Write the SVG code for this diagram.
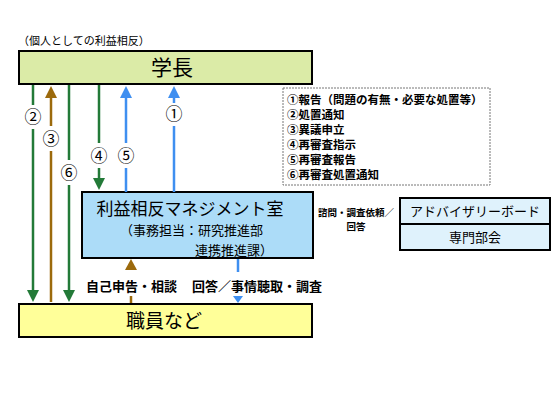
<svg xmlns="http://www.w3.org/2000/svg" width="560" height="420" viewBox="0 0 560 420">
<style>
text{font-family:"Noto Sans CJK JP","Noto Sans CJK SC",sans-serif;fill:#000}
.box{stroke:#000;stroke-width:2}
.g{stroke:#237a38;stroke-width:2.5;fill:none}
.b{stroke:#3f8ff0;stroke-width:2.5;fill:none}
.o{stroke:#9c6a0c;stroke-width:2.5;fill:none}
.num{font-size:17px;text-anchor:middle}
.leg{font-size:11.5px;font-weight:bold}
.sm{font-size:13px;font-weight:bold}
</style>
<rect width="560" height="420" fill="#fff"/>
<text x="18" y="45" font-size="11">（個人としての利益相反）</text>
<g id="gakucho"><rect class="box" x="19" y="51" width="293" height="33" fill="#dbeba7"/><text x="172" y="75" font-size="21" text-anchor="middle">学長</text></g>
<g id="legend"><rect x="283" y="88" width="207" height="97" fill="#fff" stroke="#777" stroke-width="1" stroke-dasharray="2,1"/>
<text class="leg" x="287" y="104">①報告（問題の有無・必要な処置等）</text>
<text class="leg" x="287" y="119">②処置通知</text>
<text class="leg" x="287" y="134">③異議申立</text>
<text class="leg" x="287" y="149">④再審査指示</text>
<text class="leg" x="287" y="164">⑤再審査報告</text>
<text class="leg" x="287" y="179">⑥再審査処置通知</text></g>
<g id="mgmt"><rect class="box" x="82" y="192" width="231" height="66" fill="#acdcf8"/>
<text x="190" y="215" font-size="17" text-anchor="middle">利益相反マネジメント室</text>
<text x="120" y="235" font-size="13">（事務担当：研究推進部</text>
<text x="195" y="255" font-size="13">連携推進課）</text></g>
<g id="advisory"><rect class="box" x="400" y="198" width="150" height="26" fill="#dff2fc"/><text x="475" y="216" font-size="13" text-anchor="middle">アドバイザリーボード</text></g>
<g id="senmon"><rect class="box" x="400" y="224" width="150" height="26" fill="#dff2fc"/><text x="475" y="242" font-size="13" text-anchor="middle">専門部会</text></g>
<g id="shokuin"><rect class="box" x="19" y="304" width="293" height="33" fill="#ffff99"/><text x="164" y="328" font-size="19" text-anchor="middle">職員など</text></g>
<g id="connectors">
<line class="g" x1="33" y1="85" x2="33" y2="105"/><line class="g" x1="33" y1="129" x2="33" y2="292"/><path d="M27,290 L39,290 L33,302 Z" fill="#237a38"/>
<text class="num" x="33" y="123">②</text>
<line class="o" x1="51" y1="96" x2="51" y2="126"/><line class="o" x1="51" y1="151" x2="51" y2="302"/><path d="M45,98 L57,98 L51,86 Z" fill="#9c6a0c"/>
<text class="num" x="51" y="145">③</text>
<line class="g" x1="69" y1="85" x2="69" y2="160"/><line class="g" x1="69" y1="185" x2="69" y2="292"/><path d="M63,290 L75,290 L69,302 Z" fill="#237a38"/>
<text class="num" x="69" y="179">⑥</text>
<line class="g" x1="99" y1="85" x2="99" y2="143"/><line class="g" x1="99" y1="168" x2="99" y2="180"/><path d="M93,178 L105,178 L99,190 Z" fill="#237a38"/>
<text class="num" x="99" y="162">④</text>
<line class="b" x1="126" y1="96" x2="126" y2="143"/><line class="b" x1="126" y1="168" x2="126" y2="192"/><path d="M120,98 L132,98 L126,86 Z" fill="#3f8ff0"/>
<text class="num" x="126" y="162">⑤</text>
<line class="b" x1="174" y1="96" x2="174" y2="103"/><line class="b" x1="174" y1="126" x2="174" y2="192"/><path d="M168,98 L180,98 L174,86 Z" fill="#3f8ff0"/>
<text class="num" x="174" y="120">①</text>
<path d="M125,270 L137,270 L131,259 Z" fill="#9c6a0c"/><line class="o" x1="131" y1="296" x2="131" y2="303"/>
<text class="sm" x="86" y="291">自己申告・相談</text>
<line class="b" x1="238" y1="259" x2="238" y2="272"/><path d="M233,296 L243,296 L238,303 Z" fill="#3f8ff0"/>
<text class="sm" x="192" y="291">回答／事情聴取・調査</text>
<text x="356" y="216" font-size="9.5" font-weight="bold" text-anchor="middle">諮問・調査依頼／</text>
<text x="356" y="230" font-size="9.5" font-weight="bold" text-anchor="middle">回答</text>
</g>
</svg>
